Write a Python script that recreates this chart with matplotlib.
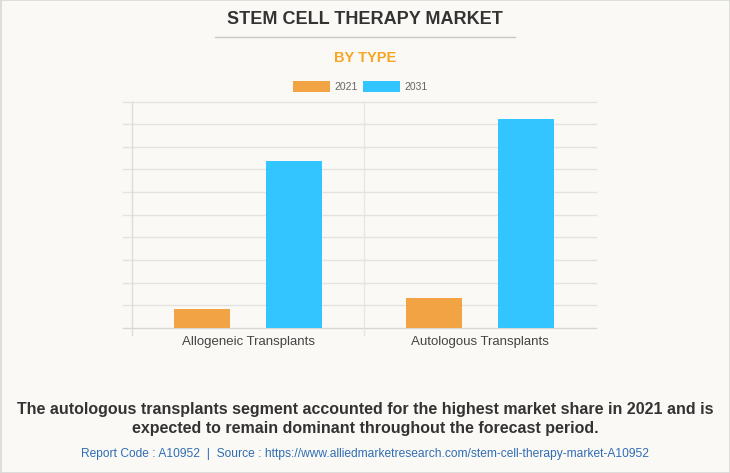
import matplotlib
matplotlib.use("Agg")
import matplotlib.pyplot as plt
from matplotlib.patches import Rectangle
from matplotlib.lines import Line2D
import numpy as np

plt.rcParams['font.family'] = ['Liberation Sans', 'DejaVu Sans']

categories = ["Allogeneic Transplants", "Autologous Transplants"]
series_names = ["2021", "2031"]
values_2021 = [0.83, 1.31]
values_2031 = [7.36, 9.22]
colors = ["#f2a444", "#33c5ff"]

title = "STEM CELL THERAPY MARKET"
subtitle = "BY TYPE"
caption = ("The autologous transplants segment accounted for the highest market share in 2021 and is\n"
           "expected to remain dominant throughout the forecast period.")
source = "Report Code : A10952  |  Source : https://www.alliedmarketresearch.com/stem-cell-therapy-market-A10952"

W, H = 730, 473
fig = plt.figure(figsize=(W/100, H/100), dpi=100)
bg = "#faf9f5"
fig.patch.set_facecolor(bg)

# border
fig.add_artist(Rectangle((0.5/W, 0.5/H), 1-1/W, 1-1/H, transform=fig.transFigure,
                         fill=False, edgecolor="#d8d8d8", lw=1.2))

left, right, top, bottom = 132, 596, 101.7, 327.7
ax = fig.add_axes([left/W, 1-bottom/H, (right-left)/W, (bottom-top)/H])
ax.set_facecolor(bg)
ax.set_xlim(-0.5, 1.5)
ax.set_ylim(0, 10)

grid_c = "#e3e3e3"
for yv in np.arange(0, 11, 1):
    ax.plot([-0.5 - 9/232, 1.5], [yv, yv], color=grid_c if yv > 0 else "#d6d6d6",
            lw=1, clip_on=False, zorder=0)
# vertical separators
for xv in [-0.5, 0.5]:
    ax.plot([xv, xv], [-7/22.6, 10], color="#dcdcdc" if xv < 0 else "#e6e6e6",
            lw=1, clip_on=False, zorder=0)

x = np.arange(len(categories))
bw = 0.241
off = 0.2
ax.bar(x - off, values_2021, bw, color=colors[0], zorder=2)
ax.bar(x + off, values_2031, bw, color=colors[1], zorder=2)

for s in ax.spines.values():
    s.set_visible(False)
ax.set_yticks([])
ax.set_xticks(x)
ax.set_xticklabels(categories, fontsize=9.5, color="#444444")
ax.tick_params(axis='x', length=0, pad=6)

# titles
fig.text(365/W, 1-20/H, title, ha='center', va='center', fontsize=13, fontweight='bold',
         color="#333333")
fig.add_artist(Line2D([215/W, 515/W], [1-37.5/H, 1-37.5/H], color="#c8c8c8", lw=1))
fig.text(365/W, 1-58/H, subtitle, ha='center', va='center', fontsize=10.5, fontweight='bold',
         color="#f6a623")

# legend
for i, (name, c, x0) in enumerate(zip(series_names, colors, [293, 363])):
    fig.add_artist(Rectangle((x0/W, 1-92/H), 37/W, 11/H, transform=fig.transFigure,
                             facecolor=c, edgecolor='none'))
    fig.text((x0+41)/W, 1-86.5/H, name, ha='left', va='center', fontsize=7.5, color="#666666")

fig.text(365/W, 1-419/H, caption, ha='center', va='center', fontsize=11.5, fontweight='bold',
         color="#333333", linespacing=1.3)
fig.text(365/W, 1-454/H, source, ha='center', va='center', fontsize=8.65, color="#2f6db5")

fig.savefig("out.png", dpi=100, facecolor=bg)
